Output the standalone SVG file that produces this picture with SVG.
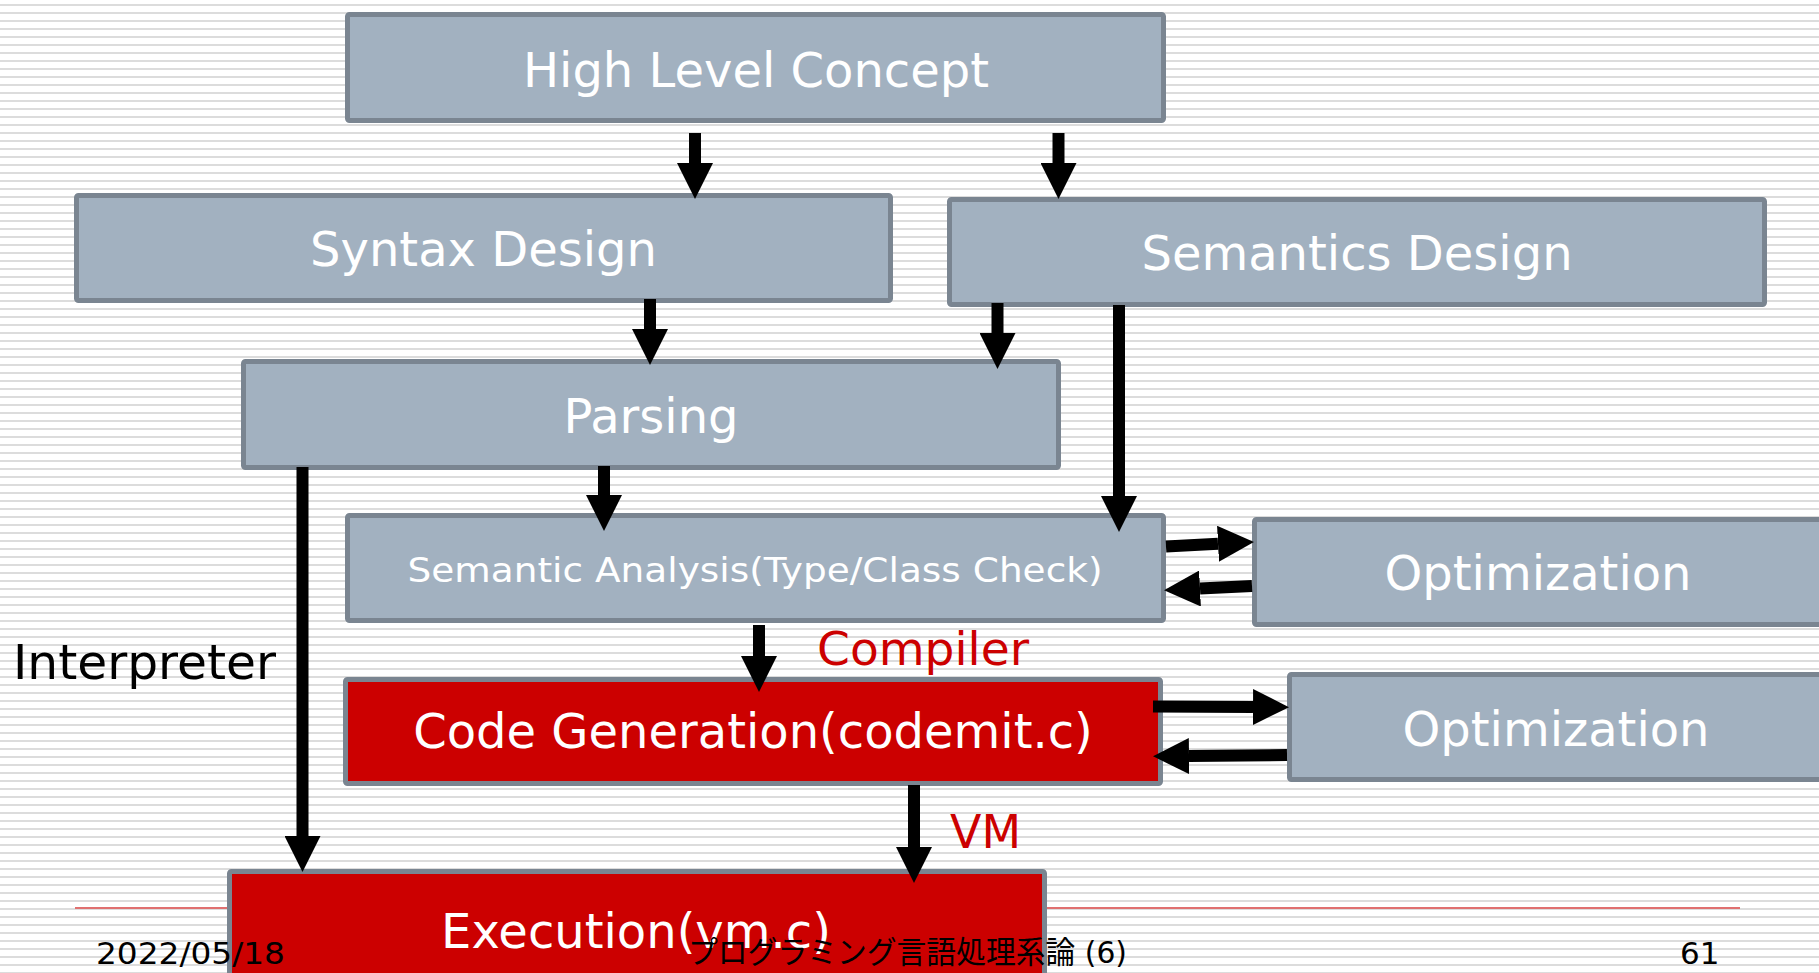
<svg xmlns="http://www.w3.org/2000/svg" width="1819" height="973" viewBox="0 0 1819 973">
<style>
.box{fill:#a2b1c0;stroke:#7a8591;stroke-width:5}
.red{fill:#cc0000;stroke:#7a8591;stroke-width:5}
.lbl{font-family:"DejaVu Sans","Liberation Sans",sans-serif;font-size:48px;fill:#ffffff;text-anchor:middle}
.ann{font-family:"DejaVu Sans","Liberation Sans",sans-serif;font-size:47px;fill:#cc0000}
.foot{font-family:"DejaVu Sans","Liberation Sans","Noto Sans CJK JP",sans-serif;font-size:31px;fill:#000000}
.arr{stroke:#000000;stroke-width:12;fill:none;marker-end:url(#head)}
</style>
<defs>
<pattern id="stripes" patternUnits="userSpaceOnUse" width="8" height="8">
<rect x="0" y="0" width="8" height="8" fill="#ffffff"/>
<rect x="0" y="4" width="8" height="2" fill="#dcdcdc"/>
</pattern>
<marker id="head" markerUnits="userSpaceOnUse" markerWidth="36" markerHeight="36" refX="0" refY="17.5" orient="auto" viewBox="0 0 35 35">
<path d="M0,0 L35,17.5 L0,35 Z" fill="#000000"/>
</marker>
</defs>
<rect x="0" y="0" width="1819" height="973" fill="url(#stripes)"/>
<line x1="75" y1="908" x2="1740" y2="908" stroke="#e07070" stroke-width="2"/>

<g id="high-level-concept">
<rect class="box" x="347.5" y="14.5" width="816" height="106" rx="2"/>
<text class="lbl" x="756" y="87">High Level Concept</text>
</g>
<g id="syntax-design">
<rect class="box" x="76.5" y="195.5" width="814" height="105" rx="2"/>
<text class="lbl" x="483.5" y="266">Syntax Design</text>
</g>
<g id="semantics-design">
<rect class="box" x="949.5" y="199.5" width="815" height="105" rx="2"/>
<text class="lbl" x="1357" y="270">Semantics Design</text>
</g>
<g id="parsing">
<rect class="box" x="243.5" y="361.5" width="815" height="106" rx="2"/>
<text class="lbl" x="651" y="433">Parsing</text>
</g>
<g id="semantic-analysis">
<rect class="box" x="347.5" y="515.5" width="816" height="105" rx="2"/>
<text class="lbl" x="755" y="582" style="font-size:33px" textLength="695" lengthAdjust="spacingAndGlyphs">Semantic Analysis(Type/Class Check)</text>
</g>
<g id="optimization-1">
<rect class="box" x="1254.5" y="519.5" width="600" height="105" rx="2"/>
<text class="lbl" x="1538" y="590">Optimization</text>
</g>
<g id="code-generation">
<rect class="red" x="345.5" y="679.5" width="815" height="104" rx="2"/>
<text class="lbl" x="753" y="748">Code Generation(codemit.c)</text>
</g>
<g id="optimization-2">
<rect class="box" x="1289.5" y="674.5" width="600" height="105" rx="2"/>
<text class="lbl" x="1556" y="746">Optimization</text>
</g>
<g id="execution">
<rect class="red" x="229.5" y="871.5" width="815" height="140" rx="2"/>
<text class="lbl" x="636" y="948">Execution(vm.c)</text>
</g>

<g id="connectors">
<line class="arr" x1="695" y1="133" x2="695" y2="163"/>
<line class="arr" x1="1058.5" y1="133" x2="1058.5" y2="163"/>
<line class="arr" x1="650" y1="299" x2="650" y2="329"/>
<line class="arr" x1="997.5" y1="303" x2="997.5" y2="333"/>
<line class="arr" x1="1119" y1="305" x2="1119" y2="496"/>
<line class="arr" x1="604" y1="466" x2="604" y2="495"/>
<line class="arr" x1="302.5" y1="467" x2="302.5" y2="836"/>
<line class="arr" x1="759" y1="625" x2="759" y2="656"/>
<line class="arr" x1="914" y1="785" x2="914" y2="847"/>
<line class="arr" x1="1166" y1="546.5" x2="1218" y2="543.8"/>
<line class="arr" x1="1252" y1="586" x2="1200" y2="588.5"/>
<line class="arr" x1="1153" y1="706.5" x2="1253" y2="707"/>
<line class="arr" x1="1287" y1="755" x2="1189" y2="756"/>
</g>

<g id="annotations">
<text class="ann" x="817" y="665" textLength="212" lengthAdjust="spacingAndGlyphs">Compiler</text>
<text class="ann" x="950" y="848" textLength="71" lengthAdjust="spacingAndGlyphs">VM</text>
<text x="13" y="679" style="font-family:'DejaVu Sans','Liberation Sans',sans-serif;font-size:48px;fill:#000000" textLength="263" lengthAdjust="spacingAndGlyphs">Interpreter</text>
</g>

<g id="footer">
<text class="foot" x="96" y="964" textLength="189" lengthAdjust="spacingAndGlyphs">2022/05/18</text>
<text class="foot" x="688" y="963" textLength="439" lengthAdjust="spacingAndGlyphs">プログラミング言語処理系論 (6)</text>
<text class="foot" x="1680" y="964">61</text>
</g>
</svg>
